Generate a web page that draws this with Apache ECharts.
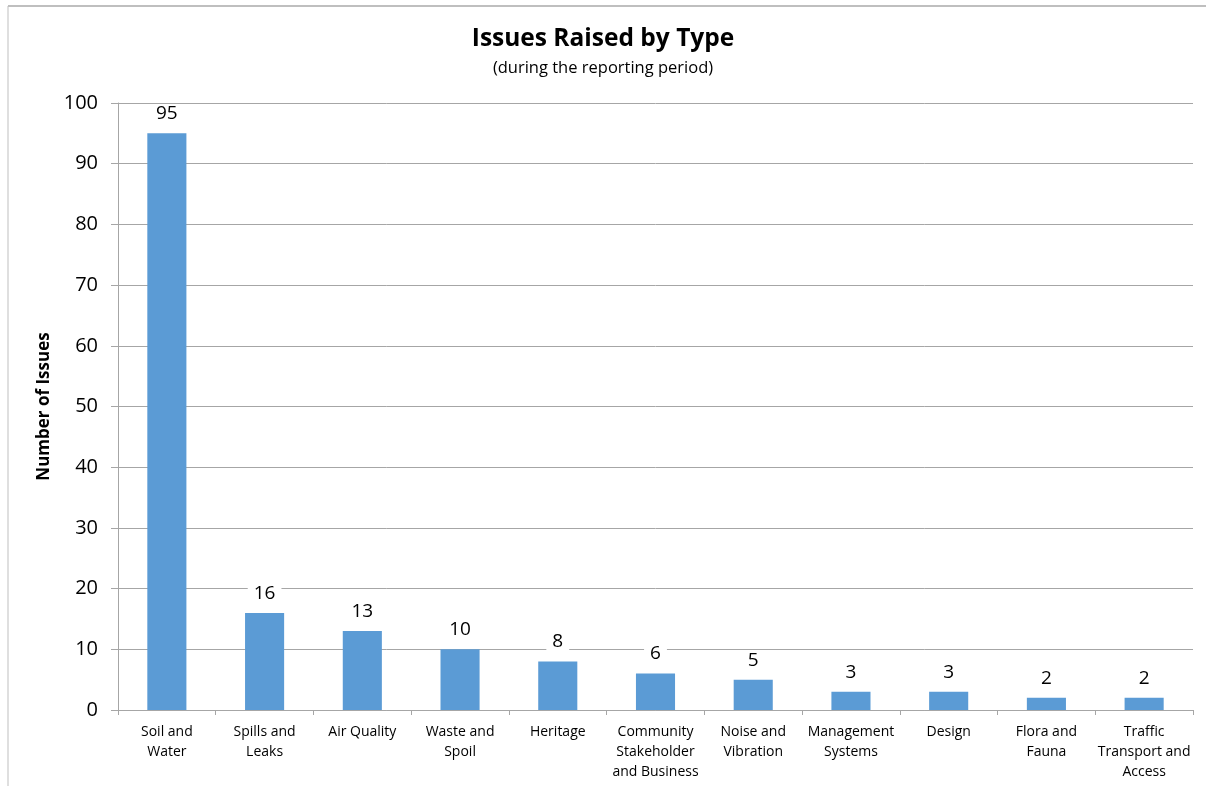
<!DOCTYPE html>
<html>
<head>
<meta charset="utf-8">
<script src="https://cdn.jsdelivr.net/npm/echarts@6/dist/echarts.min.js"></script>
<style>
  html, body { margin: 0; padding: 0; background: #fff; }
  #chart { width: 1206px; height: 786px; }
</style>
</head>
<body>
<div id="chart"></div>
<script>
// Issue categories (two- and three-line labels as shown under the axis)
const categories = [
  'Soil and\nWater',
  'Spills and\nLeaks',
  'Air Quality',
  'Waste and\nSpoil',
  'Heritage',
  'Community\nStakeholder\nand Business',
  'Noise and\nVibration',
  'Management\nSystems',
  'Design',
  'Flora and\nFauna',
  'Traffic\nTransport and\nAccess'
];

// Number of issues raised per category
const issueCounts = [95, 16, 13, 10, 8, 6, 5, 3, 3, 2, 2];

const FONT = '"Open Sans", "Liberation Sans", sans-serif';

const chart = echarts.init(document.getElementById('chart'), null, { renderer: 'canvas' });

chart.setOption({
  animation: false,
  backgroundColor: '#ffffff',
  textStyle: { fontFamily: FONT },
  title: {
    text: 'Issues Raised by Type',
    subtext: '(during the reporting period)',
    left: 'center',
    top: 22,
    itemGap: 8,
    textStyle: { fontFamily: FONT, fontSize: 24.5, fontWeight: 'bold', color: '#000' },
    subtextStyle: { fontFamily: FONT, fontSize: 16.5, color: '#000' }
  },
  grid: { left: 118, right: 13, top: 103, bottom: 76, containLabel: false },
  xAxis: {
    type: 'category',
    data: categories,
    axisLine: { lineStyle: { color: '#a6a6a6', width: 1 } },
    axisTick: { show: true, length: 5, lineStyle: { color: '#a6a6a6' } },
    axisLabel: {
      interval: 0,
      margin: 12,
      color: '#000',
      fontFamily: FONT,
      fontSize: 14,
      lineHeight: 20
    }
  },
  yAxis: {
    type: 'value',
    min: 0,
    max: 100,
    interval: 10,
    name: 'Number of Issues',
    nameLocation: 'middle',
    nameGap: 64,
    nameTextStyle: { fontFamily: FONT, fontSize: 17, fontWeight: 'bold', color: '#000' },
    axisLine: { show: true, lineStyle: { color: '#a6a6a6' } },
    axisTick: { show: true, length: 7, lineStyle: { color: '#a6a6a6' } },
    axisLabel: { color: '#000', fontFamily: FONT, fontSize: 20, margin: 20 },
    splitLine: { lineStyle: { color: '#a6a6a6', width: 1 } }
  },
  series: [{
    type: 'bar',
    data: issueCounts,
    barWidth: '40%',
    itemStyle: { color: '#5b9bd5' },
    label: {
      show: true,
      position: 'top',
      distance: 10,
      color: '#000',
      fontFamily: FONT,
      fontSize: 19,
      backgroundColor: '#fff',
      padding: [0, 6]
    }
  }],
  graphic: [
    { type: 'line', shape: { x1: 8, y1: 6, x2: 1206, y2: 6 }, style: { stroke: '#bfbfbf', lineWidth: 2 } },
    { type: 'line', shape: { x1: 8, y1: 6, x2: 8, y2: 786 }, style: { stroke: '#bfbfbf', lineWidth: 1 } }
  ]
});
</script>
</body>
</html>
